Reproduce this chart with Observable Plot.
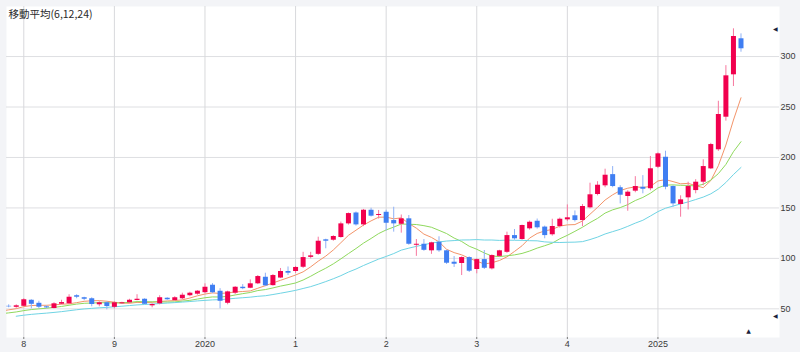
<!DOCTYPE html>
<html><head><meta charset="utf-8">
<script src="https://cdn.jsdelivr.net/npm/d3@7"></script>
<script src="https://cdn.jsdelivr.net/npm/@observablehq/plot@0.6"></script>
<style>
html,body{margin:0;padding:0;background:#f3f4f7;}
#chart{width:800px;height:352px;}
</style></head><body><div id="chart"></div>
<script>
// Monthly candles, first candle = Nov 2017
const startMonth = 11;
const opens  = [52.5,51.5,52.5,58.5,55.5,52,50.3,54.6,55,63,61,60,54,56,51.5,55,56,58.3,59.5,53,55,60.5,58.2,60,63,64.5,66,73.4,67.4,55.5,65.5,71.4,70.4,74.8,81.3,73,80.5,87,87,91.2,101,104,118.4,118,120.7,134.2,145,133.2,147.7,142.5,145.7,137.5,133.8,139.2,113,114,107.5,116,107.5,96.2,94.9,100.8,89,98.8,89.6,102,106,122.6,118.7,129.3,136.8,131,123.4,131.6,138.2,142.2,137.5,150.1,163.3,171.9,183,170,161.3,166.6,170.5,169,190.3,200.2,171.2,153.4,160,167.2,175.5,188.7,207.6,239.9,281.9,317.6];
const highs  = [54,54,60,59,57.5,53,56,58.5,64,64,61.5,61,57,57,57,56.5,59.5,64,60,55,63,61,62,65.5,66.5,68,74.8,75,70,67.5,72,74,78.7,83,85.3,84,90,91.5,92,106,106,121,119,122.5,136,145,146,148.5,149.7,147.5,147.7,150.7,143,142.5,118.7,118.7,116,121.4,108,101.8,101.5,101.5,99.5,107.8,103.5,108,126,128.6,133,137,139,132,138.8,140,153,147,153.4,174.5,176,188.4,191,172,167,181,182,201,204.5,206.2,172,162,175.5,178,197.7,214,255.7,291,327.5,322.5];
const lows   = [51,50.5,52,50,50,50,50,54,54.5,60,58,52,52,49,50,54.5,55,58,54,51,54,58.5,57.5,59,62,63.5,65,65,50,54,64,69,70,74,72,72.5,80,83,85,90,99.5,103,109.5,117,120,133,132,131.5,141,139,127,126,125,113,102,107,104,106,94,91,83,86,84.7,89,88.5,101,105,118,118,128,129,119.4,122,130,136.5,136,131.5,149,162,170,170,154,146.7,165,164,167,189,168,150.7,140.8,148,164,172,188,206,236,270.3,304.3];
const closes = [52,53,59,54.5,51.6,51,55,56.2,61.5,61.5,59.5,54.3,56,52.3,56,56,58.5,59.5,54.5,54.3,61,59,61,63.5,65.5,67.5,71.4,66,57.5,66.8,71.4,70,74.8,82,72.8,83,87,85.3,91,100.8,102.5,117,117,121.7,134.2,144.4,133.2,147.7,141.8,143.5,134.8,134.2,139.2,114,114,108,115.4,107.5,95.2,94.2,100.8,87.3,98.8,90.2,102.8,107.5,122.6,119.4,132.6,135.8,130.3,122.6,131.6,138.8,140.2,137.5,151.4,163,172.5,182.4,171.2,162.6,165.6,171.2,168.5,188.8,203.6,170.5,154,158,171.2,175.5,191,212.8,242.6,280.9,319.9,307.7];
// closes of the 22 months before the first visible candle (feed the moving averages)
const priorCloses = [34,35,36,37,38,38,39,39,40,41,42,42,43,42,43,44,44,46,47,48,50,51];
const maPeriods = [6,12,24];
const maColors  = ["#f3946a","#8fd95d","#6fd4e4"];
const yTicks = [50,100,150,200,250,300];
const xTickLabels = ["8","9","2020","1","2","3","4","2025"];
const title = "移動平均(6,12,24)";

const upBody = "#f1004e", upWick = "#f7789f", downBody = "#3f7ef2", downWick = "#8fb1f6";

const n = closes.length;
const candles = closes.map((c,i)=>({i, o:opens[i], h:highs[i], l:lows[i], c, up: c>=opens[i]}));
const allCloses = priorCloses.concat(closes);
const offset = priorCloses.length;
function ma(p){
  const out=[];
  for (let k=p-1;k<allCloses.length;k++){
    let s=0; for (let j=k-p+1;j<=k;j++) s+=allCloses[j];
    out.push({i:k-offset, v:s/p});
  }
  return out;
}
const maSeries = maPeriods.map(ma);
const firstJan = 13 - startMonth;
const yearIdx = xTickLabels.map((_,j)=> firstJan + 12*j);
const maxHigh = d3.max(highs);
const minVal = Math.min(d3.min(lows), ...maSeries.map(s=>d3.min(s.filter(d=>d.i>=0), d=>d.v)));

const font = "'Liberation Sans', Arial, sans-serif";
const plot = Plot.plot({
  width: 800, height: 352,
  marginLeft: 6, marginRight: 21, marginTop: 6, marginBottom: 15,
  x: {domain: [-0.29, 102.1], label: null},
  y: {domain: [21.6, 349.6], label: null},
  style: {background: "#f3f4f7", fontFamily: font, overflow: "visible"},
  marks: [
    Plot.frame({fill: "white", stroke: null}),
    Plot.ruleY(yTicks, {stroke: "#dedfe2", strokeWidth: 1}),
    Plot.ruleX(yearIdx, {stroke: "#d8d9dc", strokeWidth: 1}),
    Plot.axisX({ticks: yearIdx, tickFormat: d => xTickLabels[yearIdx.indexOf(d)], tickSize: 2, tickPadding: 1.5, fontSize: 9, color: "#3a3a3a", stroke: "#777", label: null}),
    Plot.axisY({anchor: "right", ticks: yTicks, tickSize: 0, tickPadding: 1, fontSize: 9, color: "#3a3a3a", textAnchor: "start", label: null}),
    ...maSeries.map((s,k) => Plot.line(s, {x: "i", y: "v", stroke: maColors[k], strokeWidth: 1, clip: true})),
    Plot.ruleX(candles, {x: "i", y1: "l", y2: "h", stroke: d => d.up ? upWick : downWick, strokeWidth: 1, clip: true}),
    Plot.ruleX(candles, {x: "i", y1: "o", y2: "c", stroke: d => d.up ? upBody : downBody, strokeWidth: 5, clip: true}),
    Plot.text([title], {frameAnchor: "top-left", dx: 2, dy: 8, textAnchor: "start", lineAnchor: "middle", fontSize: 10.5, fill: "#2a2a2a", fontFamily: "'Noto Sans CJK JP', sans-serif"}),
    Plot.text([maxHigh, minVal], {y: d => d, text: () => "◀", frameAnchor: "right", dx: -2, fontSize: 6, fill: "#1b1f3b", fontFamily: "'DejaVu Sans'"}),
    Plot.text([n], {x: d => d, text: () => "▲", frameAnchor: "bottom", dy: -5, fontSize: 6, fill: "#1b1f3b", fontFamily: "'DejaVu Sans'"})
  ]
});
document.getElementById("chart").appendChild(plot);
</script>
</body></html>
